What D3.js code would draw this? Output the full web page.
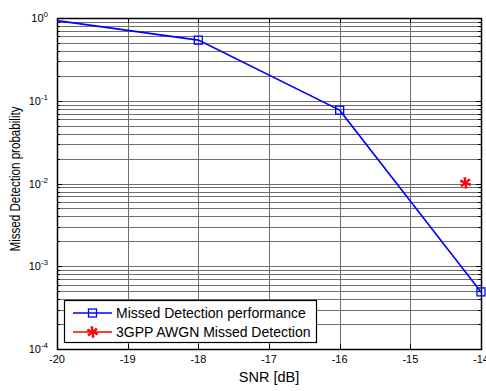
<meta charset="utf-8">
<script src="https://d3js.org/d3.v7.min.js"></script>
<style>
    body { margin: 0; background: #fff; }
    text { font-family: "Liberation Sans", Arial, sans-serif; }
</style>
<svg width="486" height="391"></svg>
<script>
    // data
    var snr = [-20, -18, -16, -14];
    var missed = [0.93, 0.54, 0.077, 0.00049];
    var ref3gpp = [{x: -14.22, y: 0.0102}];
    var xTicks = [-20, -19, -18, -17, -16, -15, -14];
    var yDecades = [-4, -3, -2, -1, 0];

    var svg = d3.select("svg"),
        m = {left: 57, top: 18, right: 481, bottom: 349};

    var x = d3.scaleLinear().domain([-20, -14]).range([m.left, m.right]);
    var y = d3.scaleLog().domain([1e-4, 1]).range([m.bottom, m.top]);

    // minor values 1..9 in each decade
    var minors = [];
    yDecades.slice(0, -1).forEach(function(e) {
        for (var k = 1; k <= 9; k++) minors.push(k * Math.pow(10, e));
    });
    minors.push(1);

    var grid = svg.append("g").attr("stroke", "#6e6e6e").attr("stroke-width", 1);
    grid.selectAll(".h").data(minors).enter().append("line")
        .attr("x1", m.left).attr("x2", m.right)
        .attr("y1", function(d) { return Math.round(y(d)) + 0.5; })
        .attr("y2", function(d) { return Math.round(y(d)) + 0.5; });
    grid.selectAll(".v").data(xTicks).enter().append("line")
        .attr("y1", m.top).attr("y2", m.bottom)
        .attr("x1", function(d) { return Math.round(x(d)) + 0.5; })
        .attr("x2", function(d) { return Math.round(x(d)) + 0.5; });

    // tick marks inside the box
    var ticks = svg.append("g").attr("stroke", "#000");
    ticks.selectAll(".tl").data(minors).enter().append("line")
        .attr("x1", m.left).attr("x2", function(d) { return m.left + (Number.isInteger(Math.log10(d)) ? 5 : 3); })
        .attr("y1", function(d) { return Math.round(y(d)) + 0.5; })
        .attr("y2", function(d) { return Math.round(y(d)) + 0.5; });
    ticks.selectAll(".tr").data(minors).enter().append("line")
        .attr("x1", m.right).attr("x2", function(d) { return m.right - (Number.isInteger(Math.log10(d)) ? 5 : 3); })
        .attr("y1", function(d) { return Math.round(y(d)) + 0.5; })
        .attr("y2", function(d) { return Math.round(y(d)) + 0.5; });
    ticks.selectAll(".tb").data(xTicks).enter().append("line")
        .attr("y1", m.bottom).attr("y2", m.bottom - 5)
        .attr("x1", function(d) { return Math.round(x(d)) + 0.5; })
        .attr("x2", function(d) { return Math.round(x(d)) + 0.5; });
    ticks.selectAll(".tt").data(xTicks).enter().append("line")
        .attr("y1", m.top).attr("y2", m.top + 5)
        .attr("x1", function(d) { return Math.round(x(d)) + 0.5; })
        .attr("x2", function(d) { return Math.round(x(d)) + 0.5; });

    // axes box
    svg.append("rect")
        .attr("x", m.left + 0.5).attr("y", m.top + 0.5)
        .attr("width", m.right - m.left).attr("height", m.bottom - m.top)
        .attr("fill", "none").attr("stroke", "#000").attr("stroke-width", 1.5);

    // x labels
    svg.append("g").selectAll("text").data(xTicks).enter().append("text")
        .attr("x", function(d) { return x(d); })
        .attr("y", m.bottom + 14)
        .attr("text-anchor", "middle")
        .attr("font-size", "11px")
        .text(function(d) { return d; });

    // y labels 10^e
    var yl = svg.append("g").selectAll("text").data(yDecades).enter().append("text")
        .attr("x", m.left - 9)
        .attr("y", function(d) { return y(Math.pow(10, d)) + 4; })
        .attr("text-anchor", "end")
        .attr("font-size", "11px");
    yl.append("tspan").text("10");
    yl.append("tspan").attr("dy", -5).attr("font-size", "8px").text(function(d) { return d; });

    svg.append("text")
        .attr("x", (m.left + m.right) / 2)
        .attr("y", 382)
        .attr("text-anchor", "middle")
        .attr("font-size", "14.5px")
        .text("SNR [dB]");
    svg.append("text")
        .attr("transform", "translate(20,179) rotate(-90) scale(0.8,1)")
        .attr("text-anchor", "middle")
        .attr("font-size", "14.5px")
        .text("Missed Detection probability");

    // blue series
    var pts = snr.map(function(d, i) { return {x: d, y: missed[i]}; });
    var line = d3.line().x(function(d) { return x(d.x); }).y(function(d) { return y(d.y); });
    svg.append("path").datum(pts)
        .attr("d", line)
        .attr("fill", "none").attr("stroke", "#0000ff").attr("stroke-width", 1.6);
    svg.selectAll(".sq").data(pts.filter(function(d) { return d.x > -20; })).enter().append("rect")
        .attr("x", function(d) { return x(d.x) - 4; })
        .attr("y", function(d) { return y(d.y) - 4; })
        .attr("width", 8).attr("height", 8)
        .attr("fill", "none").attr("stroke", "#0000ff").attr("stroke-width", 1.3);

    // red star marker
    var star = d3.symbol().type(d3.symbolAsterisk).size(90);
    function asterisk(g) {
        g.append("path").attr("d", star).attr("fill", "none").attr("stroke", "#ff0000").attr("stroke-width", 1.5);
        g.append("path").attr("d", star).attr("transform", "rotate(45)").attr("fill", "none").attr("stroke", "#ff0000").attr("stroke-width", 1.5);
    }
    svg.selectAll(".st").data(ref3gpp).enter().append("g")
        .attr("transform", function(d) { return "translate(" + x(d.x) + "," + y(d.y) + ")"; })
        .call(asterisk);

    // legend
    var lg = svg.append("g");
    lg.append("rect")
        .attr("x", 64.5).attr("y", 300.5).attr("width", 252).attr("height", 42)
        .attr("fill", "#fff").attr("stroke", "#000").attr("stroke-width", 1.2);
    var entries = ["Missed Detection performance", "3GPP AWGN Missed Detection"];
    var colors = ["#0000ff", "#ff0000"];
    entries.forEach(function(t, i) {
        var yy = 313 + i * 19;
        lg.append("line").attr("x1", 73).attr("x2", 112).attr("y1", yy).attr("y2", yy)
            .attr("stroke", colors[i]).attr("stroke-width", 1.5);
        if (i == 0) {
            lg.append("rect").attr("x", 88.5).attr("y", yy - 4).attr("width", 8).attr("height", 8)
                .attr("fill", "none").attr("stroke", colors[i]).attr("stroke-width", 1.3);
        } else {
            lg.append("g").attr("transform", "translate(92.5," + yy + ")").call(asterisk);
        }
        lg.append("text").attr("x", 116).attr("y", yy + 5)
            .attr("font-size", "14px").text(t);
    });
</script>
